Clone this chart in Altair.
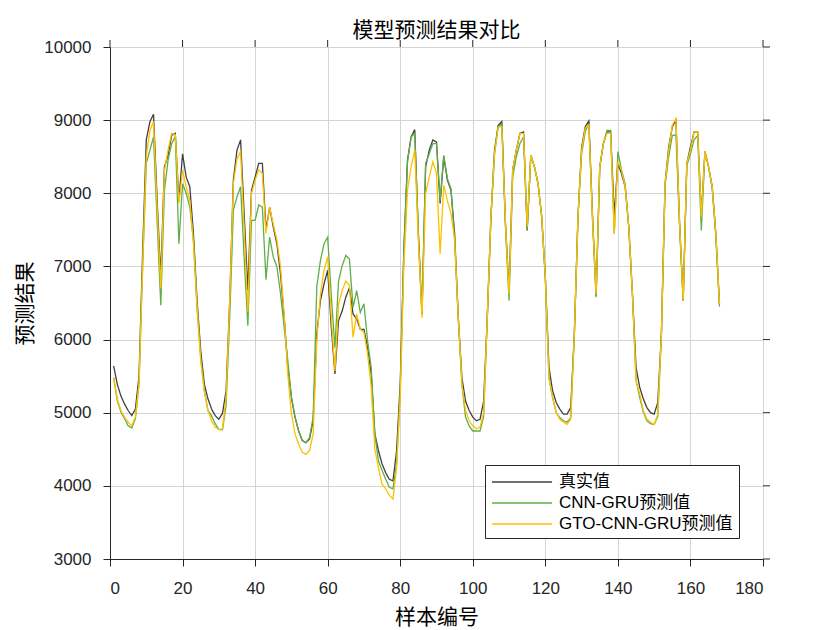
import altair as alt
import pandas as pd

x_vals = list(range(1, 169))

true_vals = [
    5640, 5390, 5230, 5120, 5030, 4960, 5050, 5500, 7200, 8730,
    8980, 9080, 7900, 6850, 8360, 8520, 8790, 8820, 7900, 8540,
    8220, 8090, 7450, 6530, 5850, 5390, 5190, 5050, 4960, 4910,
    4990, 5300, 6530, 8180, 8590, 8730, 7700, 6670, 8040, 8220,
    8410, 8410, 7500, 7810, 7540, 7310, 6900, 6310, 5620, 5210,
    4940, 4750, 4620, 4590, 4640, 4890, 6080, 6530, 6760, 6950,
    6170, 5530, 6260, 6390, 6580, 6710, 6350, 6280, 6140, 6140,
    5890, 5530, 4710, 4480, 4300, 4180, 4090, 4070, 4480, 5400,
    7220, 8450, 8770, 8870, 7450, 6350, 8360, 8590, 8730, 8700,
    7860, 8500, 8180, 8040, 7450, 6300, 5480, 5160, 5030, 4940,
    4890, 4910, 5160, 6300, 7680, 8590, 8930, 8980, 7600, 6670,
    8320, 8590, 8820, 8840, 7490, 8520, 8360, 8130, 7680, 6850,
    5620, 5300, 5140, 5050, 4980, 4980, 5070, 6080, 7680, 8630,
    8910, 8990, 7700, 6600, 8360, 8680, 8840, 8840, 7700, 8410,
    8270, 8090, 7540, 6630, 5620, 5350, 5190, 5070, 5000, 4980,
    5140, 6080, 8130, 8630, 8910, 9000, 7600, 6530, 8410, 8630,
    8840, 8840, 7700, 8570, 8360, 8090, 7450, 6490,
]

cnn_gru_vals = [
    5480, 5170, 5010, 4920, 4820, 4790, 4920, 5400, 7000, 8410,
    8590, 8770, 7600, 6470, 8040, 8450, 8680, 8770, 7310, 8130,
    8000, 7810, 7360, 6440, 5760, 5300, 5030, 4960, 4850, 4770,
    4770, 5100, 6300, 7770, 7950, 8090, 7100, 6190, 7630, 7630,
    7840, 7810, 6820, 7400, 7130, 7000, 6630, 6170, 5720, 5210,
    4940, 4750, 4620, 4590, 4660, 4940, 6720, 7080, 7310, 7400,
    6600, 5890, 6800, 7010, 7150, 7100, 6440, 6670, 6370, 6490,
    5980, 5620, 4710, 4340, 4210, 4090, 3980, 3960, 4300, 5300,
    7200, 8430, 8770, 8820, 7450, 6350, 8410, 8540, 8680, 8680,
    7900, 8520, 8200, 8060, 7360, 6300, 5390, 4940, 4820, 4750,
    4750, 4750, 4950, 6300, 7650, 8540, 8910, 8950, 7550, 6530,
    8220, 8500, 8680, 8770, 7490, 8520, 8360, 8130, 7680, 6850,
    5480, 5210, 5000, 4930, 4890, 4870, 4930, 6080, 7680, 8540,
    8840, 8950, 7650, 6580, 8360, 8680, 8860, 8860, 7450, 8570,
    8320, 8130, 7540, 6630, 5440, 5210, 5010, 4890, 4850, 4840,
    4950, 6080, 8100, 8500, 8790, 8800, 7550, 6530, 8380, 8540,
    8730, 8790, 7490, 8570, 8360, 8060, 7400, 6450,
]

gto_vals = [
    5480, 5190, 5030, 4940, 4870, 4820, 4940, 5390, 7000, 8500,
    8860, 8980, 7800, 6700, 8310, 8590, 8820, 8800, 7860, 8310,
    8090, 7900, 7310, 6440, 5710, 5300, 5030, 4890, 4800, 4770,
    4780, 5200, 6530, 8130, 8470, 8570, 7500, 6380, 8000, 8180,
    8320, 8270, 7450, 7810, 7580, 7360, 7000, 6350, 5530, 4990,
    4710, 4570, 4460, 4430, 4480, 4710, 5990, 6620, 6950, 7130,
    6300, 5570, 6480, 6670, 6800, 6740, 6030, 6350, 6140, 6100,
    5800, 5350, 4500, 4250, 4020, 3960, 3870, 3820, 4250, 5200,
    7000, 8040, 8360, 8590, 7360, 6300, 8000, 8220, 8430, 8270,
    7170, 8110, 7900, 7720, 7360, 6300, 5390, 5030, 4890, 4820,
    4780, 4800, 5000, 6300, 7680, 8550, 8900, 8910, 7600, 6620,
    8320, 8590, 8820, 8820, 7550, 8520, 8360, 8130, 7680, 6850,
    5480, 5210, 5000, 4910, 4870, 4840, 4910, 6080, 7680, 8590,
    8890, 8930, 7650, 6620, 8360, 8680, 8820, 8820, 7450, 8430,
    8320, 8090, 7540, 6630, 5440, 5260, 5030, 4910, 4870, 4840,
    4980, 6080, 8130, 8590, 8930, 9020, 7600, 6530, 8410, 8590,
    8840, 8840, 7680, 8570, 8360, 8090, 7450, 6490,
]

series_names = ["真实值", "CNN-GRU预测值", "GTO-CNN-GRU预测值"]
series_colors = ["#404040", "#5fae48", "#ffc000"]
x_ticks = [0, 20, 40, 60, 80, 100, 120, 140, 160, 180]
y_ticks = [3000, 4000, 5000, 6000, 7000, 8000, 9000, 10000]

W, H = 653, 512
AX = "#262626"
LAT = "Liberation Sans"
CJK = "Noto Sans CJK SC"
TICK = 7

rows = []
for name, vals in zip(series_names, [true_vals, cnn_gru_vals, gto_vals]):
    for xv, yv in zip(x_vals, vals):
        rows.append({"x": xv, "y": yv, "series": name})
df = pd.DataFrame(rows)

xscale = alt.Scale(domain=[0, 180], nice=False)
yscale = alt.Scale(domain=[3000, 10000], nice=False)

lines = alt.Chart(df).mark_line(strokeWidth=1.3).encode(
    x=alt.X("x:Q", scale=xscale,
            axis=alt.Axis(values=x_ticks, title="样本编号", grid=True, format="d",
                          gridColor="#d4d4d4", gridWidth=1,
                          ticks=True, tickSize=TICK, tickColor=AX,
                          domainColor=AX, labelColor=AX, labelFont=LAT,
                          labelFontSize=17, labelPadding=14,
                          titleFont=CJK, titleFontSize=21, titleFontWeight="normal",
                          titleColor="#000000", titlePadding=10)),
    y=alt.Y("y:Q", scale=yscale,
            axis=alt.Axis(values=y_ticks, title="预测结果", grid=True, format="d",
                          gridColor="#d4d4d4", gridWidth=1,
                          ticks=True, tickSize=TICK, tickColor=AX,
                          domainColor=AX, labelColor=AX, labelFont=LAT,
                          labelFontSize=17, labelPadding=12,
                          titleFont=CJK, titleFontSize=21, titleFontWeight="normal",
                          titleColor="#000000", titlePadding=8)),
    color=alt.Color("series:N",
                    scale=alt.Scale(domain=series_names, range=series_colors),
                    sort=series_names,
                    legend=alt.Legend(title=None, orient="none", legendX=375, legendY=418,
                                      symbolType="M-3,0H3", symbolSize=400,
                                      symbolOffset=20, symbolStrokeWidth=1.5,
                                      labelFont=LAT + ", " + CJK, labelFontSize=17,
                                      labelColor="#000000", labelOffset=26,
                                      labelLimit=400,
                                      strokeColor="#262626", fillColor="#ffffff",
                                      padding=6, rowPadding=2,
                                      cornerRadius=0)),
)

xt = pd.DataFrame({"t": x_ticks})
yt = pd.DataFrame({"t": y_ticks})

tick_t = alt.Chart(xt).mark_rule(color=AX, strokeWidth=1).encode(
    x=alt.X("t:Q", scale=xscale), y=alt.value(0), y2=alt.value(-TICK))
tick_r = alt.Chart(yt).mark_rule(color=AX, strokeWidth=1).encode(
    y=alt.Y("t:Q", scale=yscale), x=alt.value(W), x2=alt.value(W + TICK))

chart = alt.layer(lines, tick_t, tick_r).properties(
    width=W, height=H,
    title=alt.Title("模型预测结果对比", font=CJK, fontSize=21, fontWeight="normal",
                    color="#000000", offset=0, dy=3),
    autosize=alt.AutoSizeParams(type="none"),
    padding={"left": 102, "top": 39, "right": 60, "bottom": 70},
).configure_view(stroke=AX, strokeWidth=1).configure(background="#ffffff")

chart.save("out.html", embed_options={"renderer": "svg", "actions": False})
